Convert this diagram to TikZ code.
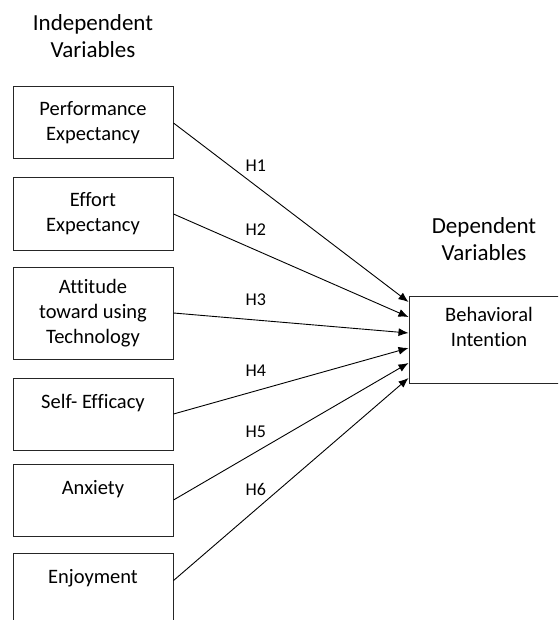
\documentclass[tikz,border=0pt]{standalone}
\usepackage{fontspec}
\setmainfont[Ligatures=NoCommon]{Carlito}
\usetikzlibrary{arrows.meta}

\begin{document}
\begin{tikzpicture}[x=1pt,y=-1pt,
		varbox/.style={draw=black!85,line width=1pt,minimum width=160pt,minimum height=72pt,align=center,inner sep=0pt,font=\fontsize{20.5}{25}\selectfont},
		heading/.style={align=center,font=\fontsize{23}{27}\selectfont},
		hyp/.style={-{Latex[length=10pt,width=8pt]},line width=0.9pt},
		hlabel/.style={font=\fontsize{18}{22}\selectfont,yshift=20pt}]
		\useasboundingbox (0,0) rectangle (558,620);
		\clip (0,0) rectangle (558,620);
		%headings
		\node[heading] (indep) at (93,36.5) {Independent\\Variables};
		\node[heading] (dep) at (484,239) {Dependent\\Variables};
		%independent variables
		\node[varbox] (perf) at (93,123) {Performance\\Expectancy};
		\node[varbox] (effort) at (93,214) {Effort\\Expectancy};
		\node[varbox,minimum height=92pt] (attit) at (93,313) {Attitude\\toward using\\Technology};
		\node[varbox] (self) at (93,414) {Self- Efficacy\\\mbox{}};
		\node[varbox] (anx) at (93,500) {Anxiety\\\mbox{}};
		\node[varbox] (enjoy) at (93,589) {Enjoyment\\\mbox{}};
		%dependent variable
		\node[varbox,minimum height=87pt] (behav) at (489,339.5) {Behavioral\\Intention\\\mbox{}};
		%hypotheses
		\draw[hyp] (perf.east) -- ([yshift=37.5pt]behav.west) node[hlabel,pos=0.35] (h1) {H1};
		\draw[hyp] (effort.east) -- ([yshift=22.5pt]behav.west) node[hlabel,pos=0.35] (h2) {H2};
		\draw[hyp] (attit.east) -- ([yshift=6.5pt]behav.west) node[hlabel,pos=0.35] (h3) {H3};
		\draw[hyp] (self.east) -- ([yshift=-8.5pt]behav.west) node[hlabel,pos=0.35] (h4) {H4};
		\draw[hyp] (anx.east) -- ([yshift=-23.5pt]behav.west) node[hlabel,pos=0.35] (h5) {H5};
		\draw[hyp] (enjoy.6) -- ([yshift=-38.5pt]behav.west) node[hlabel,pos=0.35] (h6) {H6};
	\end{tikzpicture}
\end{document}
